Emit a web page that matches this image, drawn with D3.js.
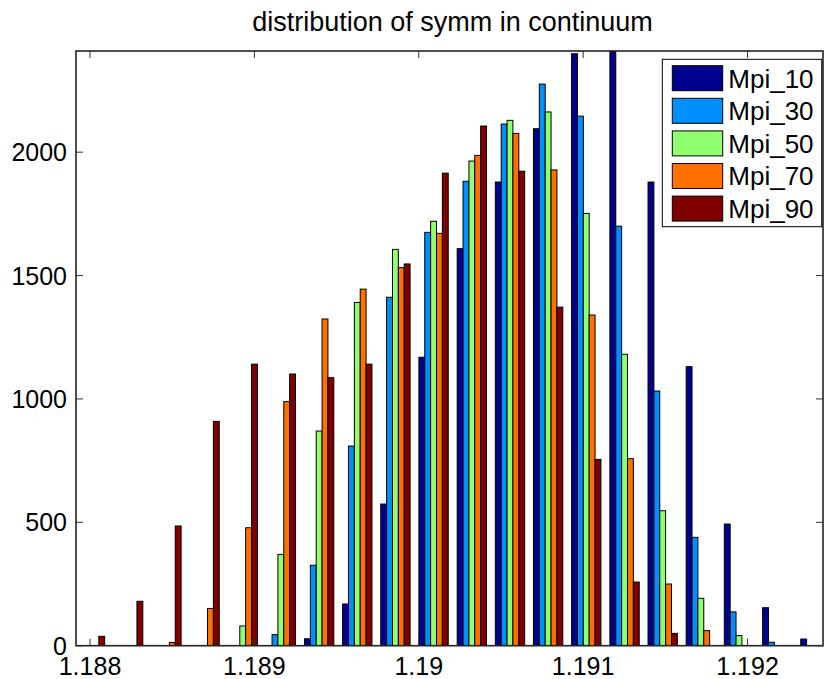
<!DOCTYPE html>
<html>
<head>
<meta charset="utf-8">
<script src="https://cdn.jsdelivr.net/npm/d3@7"></script>
<style>
  body { margin: 0; background: #fff; }
  text { font-family: "Liberation Sans", Arial, Helvetica, sans-serif; fill: #000; }
</style>
</head>
<body>
<div id="chart"></div>
<script>
// bin centres (symm)
const binCenters = [1.188000, 1.188232, 1.188465, 1.188697, 1.188929, 1.189161, 1.189394, 1.189626, 1.189858, 1.190090,
                    1.190323, 1.190555, 1.190787, 1.191019, 1.191252, 1.191484, 1.191716, 1.191948, 1.192181, 1.192413];
const seriesNames = ["Mpi_10", "Mpi_30", "Mpi_50", "Mpi_70", "Mpi_90"];
const seriesColors = ["#00008f", "#008fff", "#8fff70", "#ff7000", "#800000"];
const mpi10 = [0, 0, 0, 0, 0, 0, 28, 169, 574, 1169, 1609, 1879, 2095, 2399, 2410, 1879, 1131, 493, 154, 27];
const mpi30 = [0, 0, 0, 0, 0, 45, 326, 809, 1412, 1675, 1882, 2114, 2276, 2146, 1700, 1032, 439, 137, 14, 0];
const mpi50 = [0, 0, 0, 0, 80, 370, 870, 1391, 1606, 1720, 1964, 2129, 2163, 1752, 1181, 547, 192, 41, 0, 0];
const mpi70 = [0, 0, 13, 151, 478, 989, 1324, 1445, 1532, 1671, 1987, 2076, 1928, 1340, 758, 250, 61, 0, 0, 0];
const mpi90 = [38, 180, 485, 909, 1141, 1101, 1086, 1141, 1547, 1915, 2106, 1923, 1372, 755, 258, 50, 0, 0, 0, 0];
const seriesValues = [mpi10, mpi30, mpi50, mpi70, mpi90];
const xTicks = [1.188, 1.189, 1.19, 1.191, 1.192];
const yTicks = [0, 500, 1000, 1500, 2000];
const titleText = "distribution of symm in continuum";

let width = 825, height = 679;
let pLeft = 76, pRight = 823, pTop = 51, pBottom = 645.7;

let svg = d3.select("#chart").append("svg").attr("width", width).attr("height", height);

let x = d3.scaleLinear().domain([1.1879148, 1.1924592]).range([pLeft, pRight]);
let y = d3.scaleLinear().domain([0, 2410]).range([pBottom, pTop]);

// grouped bars, matlab style: group width = n/(n+1.5) of bin spacing
let step = x(binCenters[1]) - x(binCenters[0]);
let groupW = step * seriesNames.length / (seriesNames.length + 1.5);
let sub = d3.scaleBand().domain(seriesNames).range([-groupW / 2, groupW / 2]);

svg.append("defs").append("clipPath").attr("id", "plotclip")
    .append("rect").attr("x", pLeft).attr("y", pTop).attr("width", pRight - pLeft).attr("height", pBottom - pTop);

let bars = [];
seriesNames.forEach((name, s) => {
    binCenters.forEach((c, i) => {
        bars.push({name: name, color: seriesColors[s], c: c, v: seriesValues[s][i]});
    });
});

svg.append("g").attr("id", "bars").attr("clip-path", "url(#plotclip)")
    .selectAll("rect").data(bars).enter().append("rect")
    .attr("x", d => x(d.c) + sub(d.name)).attr("width", sub.bandwidth())
    .attr("y", d => y(d.v)).attr("height", d => y(0) - y(d.v))
    .attr("fill", d => d.color).attr("stroke", "#000").attr("stroke-width", 1);

// ticks, inside the box on all four sides
let tickLen = 7;
let ax = svg.append("g").attr("id", "axes");
ax.selectAll("line.xb").data(xTicks).enter().append("line")
    .attr("x1", d => x(d)).attr("x2", d => x(d)).attr("y1", pBottom).attr("y2", pBottom - tickLen)
    .attr("stroke", "#333").attr("stroke-width", 1);
ax.selectAll("line.xt").data(xTicks).enter().append("line")
    .attr("x1", d => x(d)).attr("x2", d => x(d)).attr("y1", pTop).attr("y2", pTop + tickLen)
    .attr("stroke", "#333").attr("stroke-width", 1);
ax.selectAll("line.yl").data(yTicks).enter().append("line")
    .attr("x1", pLeft).attr("x2", pLeft + tickLen).attr("y1", d => y(d)).attr("y2", d => y(d))
    .attr("stroke", "#333").attr("stroke-width", 1);
ax.selectAll("line.yr").data(yTicks).enter().append("line")
    .attr("x1", pRight).attr("x2", pRight - tickLen).attr("y1", d => y(d)).attr("y2", d => y(d))
    .attr("stroke", "#333").attr("stroke-width", 1);

ax.append("rect").attr("x", pLeft).attr("y", pTop).attr("width", pRight - pLeft).attr("height", pBottom - pTop)
    .attr("fill", "none").attr("stroke", "#222").attr("stroke-width", 1.6);

ax.selectAll("text.xl").data(xTicks).enter().append("text")
    .attr("x", d => x(d)).attr("y", 675).attr("text-anchor", "middle").attr("font-size", 25)
    .text(d => d3.format("")(d));
ax.selectAll("text.yl").data(yTicks).enter().append("text")
    .attr("x", 67).attr("y", d => y(d) + 9).attr("text-anchor", "end").attr("font-size", 25)
    .text(d => d);

svg.append("text").attr("x", (pLeft + pRight) / 2 + 3).attr("y", 31).attr("text-anchor", "middle")
    .attr("font-size", 27).text(titleText);

// legend
let lg = svg.append("g").attr("id", "legend");
lg.append("rect").attr("x", 662.3).attr("y", 59.3).attr("width", 159.4).attr("height", 167.4)
    .attr("fill", "#fff").attr("stroke", "#000").attr("stroke-width", 1);
let rows = lg.selectAll("g.row").data(seriesNames).enter().append("g")
    .attr("transform", (d, i) => "translate(0," + (i * 32.6) + ")");
rows.append("rect").attr("x", 672.3).attr("y", 65.7).attr("width", 50.4).attr("height", 25)
    .attr("fill", (d, i) => seriesColors[i]).attr("stroke", "#000").attr("stroke-width", 1);
rows.append("text").attr("x", 728.3).attr("y", 87.5).attr("font-size", 26).text(d => d);
</script>
</body>
</html>
